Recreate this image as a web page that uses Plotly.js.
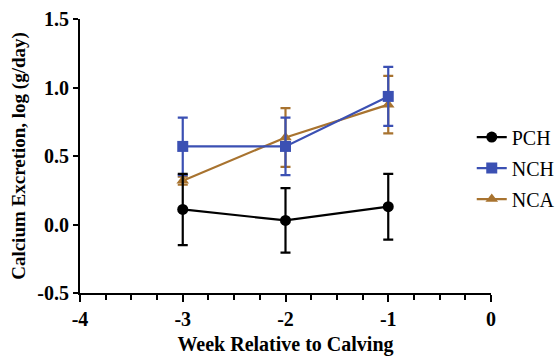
<!DOCTYPE html>
<html>
<head>
<meta charset="utf-8">
<script src="https://cdn.plot.ly/plotly-3.0.1.min.js"></script>
<style>html,body{margin:0;padding:0;background:#fff;}#chart{width:555px;height:356px;}</style>
</head>
<body>
<div id="chart"></div>
<script>
const weeks = [-3, -2, -1];
const pchMean = [0.11, 0.03, 0.13];
const pchErr = [0.26, 0.235, 0.24];
const nchMean = [0.57, 0.57, 0.935];
const nchErr = [0.21, 0.21, 0.215];
const ncaMean = [0.32, 0.635, 0.875];
const ncaErr = [0.03, 0.215, 0.21];
const seriesNames = ['PCH', 'NCH', 'NCA'];
const yTicks = [-0.5, 0.0, 0.5, 1.0, 1.5];
const xTicks = [-4, -3, -2, -1, 0];

const serif = 'Liberation Serif, Times New Roman, serif';
function mk(name, mean, err, color, symbol, size, rank) {
  return {
    x: weeks, y: mean, name: name, type: 'scatter', mode: 'lines+markers',
    legendgroup: name, legendrank: rank,
    line: {color: color, width: 2.2},
    marker: {color: color, symbol: symbol, size: size},
    error_y: {type: 'data', array: err, visible: true, color: color, thickness: 2.2, width: 5}
  };
}
const data = [
  mk(seriesNames[2], ncaMean, ncaErr, '#A8732F', 'triangle-up', 11, 3),
  mk(seriesNames[1], nchMean, nchErr, '#3B50B3', 'square', 11, 2),
  mk(seriesNames[0], pchMean, pchErr, '#000000', 'circle', 11, 1)
];

const layout = {
  width: 555, height: 356,
  margin: {l: 80, r: 64, t: 19, b: 63, autoexpand: false},
  paper_bgcolor: '#fff', plot_bgcolor: '#fff',
  showlegend: true,
  legend: {xref: 'container', yref: 'container', x: 0.850, xanchor: 'left', y: 0.528, yanchor: 'middle',
           font: {family: serif, size: 20, color: '#000'}, tracegroupgap: 2,
           bgcolor: 'rgba(0,0,0,0)'},
  xaxis: {
    range: [-4, 0], tickvals: xTicks, ticktext: xTicks.map(String),
    showgrid: false, zeroline: false, showline: true, linecolor: '#000', linewidth: 2,
    ticks: 'outside', ticklen: 7, tickwidth: 2, tickcolor: '#000',
    minor: {dtick: 0.25, ticks: 'outside', ticklen: 5, tickwidth: 2, tickcolor: '#000', showgrid: false},
    tickfont: {family: serif, size: 20, color: '#000', weight: 'bold'},
    title: {text: 'Week Relative to Calving', font: {family: serif, size: 20, color: '#000', weight: 'bold'}, standoff: 8}
  },
  yaxis: {
    range: [-0.5, 1.5], tickvals: yTicks, ticktext: yTicks.map(v => v.toFixed(1)),
    showgrid: false, zeroline: false, showline: true, linecolor: '#000', linewidth: 2,
    ticks: 'outside', ticklen: 5, tickwidth: 2, tickcolor: '#000',
    tickfont: {family: serif, size: 20, color: '#000', weight: 'bold'},
    title: {text: 'Calcium Excretion, log (g/day)', font: {family: serif, size: 19, color: '#000', weight: 'bold'}, standoff: 7}
  }
};
Plotly.newPlot('chart', data, layout, {displayModeBar: false, staticPlot: true});
</script>
</body>
</html>
